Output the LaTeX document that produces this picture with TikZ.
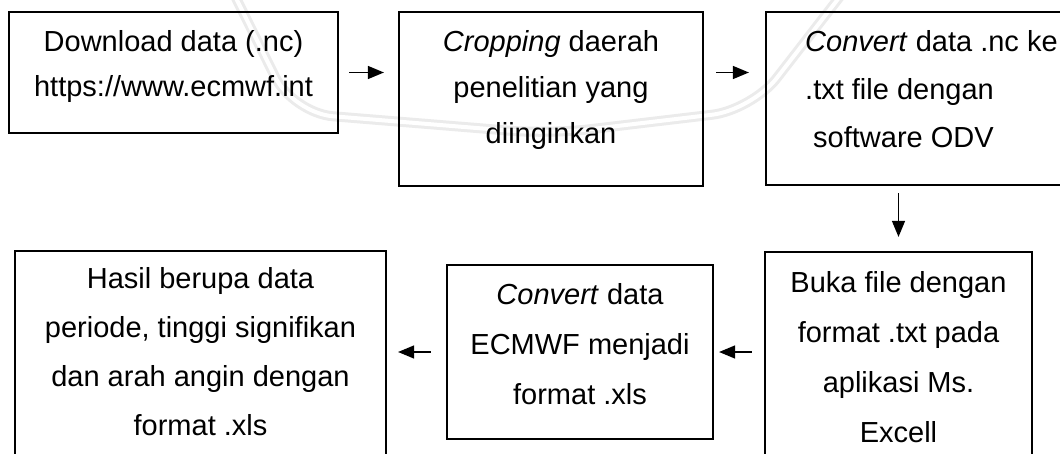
\documentclass[tikz,border=0pt]{standalone}
\usepackage{fontspec}
\setmainfont{Liberation Sans}
\usetikzlibrary{arrows.meta}
\tikzset{
  box/.style={draw=black, line width=2.2pt, rectangle, inner sep=0pt},
  txt/.style={font=\fontsize{29}{#1}\selectfont, align=center, inner sep=0pt, anchor=north},
  txtl/.style={font=\fontsize{29}{#1}\selectfont, align=left, inner sep=0pt, anchor=north west},
  arr/.style={line width=1.3pt, -{Triangle[length=16pt,width=13pt]}},
  mark band/.style={draw=black!8, line width=3pt, double=white, double distance=4pt,
    rounded corners=40pt}
}
\begin{document}
\begin{tikzpicture}[x=1pt, y=-1pt]
  \useasboundingbox (0,0) rectangle (1060,454);
  \clip (0,0) rectangle (1060,454);
  \fill[white] (0,0) rectangle (1060,454);

  % faint background emblem band
  \draw[mark band] (232,-10) -- (293,113) -- (550,134) -- (752,110) -- (845,-10);

  % process boxes
  \node[box, minimum width=329pt, minimum height=121pt] (b1) at (173.5,72.5) {};
  \node[box, minimum width=304pt, minimum height=174pt] (b2) at (551,99) {};
  \node[box, minimum width=309pt, minimum height=173pt] (b3) at (920.5,98.5) {};
  \node[box, minimum width=371pt, minimum height=219pt] (b4) at (200.5,360.5) {};
  \node[box, minimum width=266pt, minimum height=174pt] (b5) at (580,352) {};
  \node[box, minimum width=267pt, minimum height=218pt] (b6) at (898.5,361) {};

  % box texts
  \node[txt=45] (t1) at (173.5,20.2) {\strut Download data (.nc)\\https://www.ecmwf.int};
  \node[txt=46] (t2) at (551,18.8) {\strut\textit{Cropping} daerah\\penelitian yang\\diinginkan};
  \node[txtl=48] (t3) at (805,18.1) {\strut\textit{Convert} data .nc ke\\.txt file dengan\\\hspace*{8pt}software ODV};
  \node[txt=49] (t4) at (200.5,254.2) {\strut Hasil berupa data\\periode, tinggi signifikan\\dan arah angin dengan\\format .xls};
  \node[txt=50] (t5) at (580,269.3) {\strut\textit{Convert} data\\ECMWF menjadi\\format .xls};
  \node[txt=50] (t6) at (898.5,257) {\strut Buka file dengan\\format .txt pada\\aplikasi Ms.\\Excell};

  % flow arrows
  \draw[arr, shorten <=10pt, shorten >=14pt] (b1.east) -- (b1.east -| b2.west);
  \draw[arr, shorten <=12pt, shorten >=16pt] (b2.east |- b1.east) -- (b1.east -| b3.west);
  \draw[arr, shorten <=7pt, shorten >=14pt] (b6.north |- b3.south) -- (b6.north);
  \draw[arr, shorten <=12pt, shorten >=5pt] (b6.west |- b5.east) -- (b5.east);
  \draw[arr, shorten <=15pt, shorten >=11pt] (b5.west) -- (b5.west -| b4.east);
\end{tikzpicture}
\end{document}
